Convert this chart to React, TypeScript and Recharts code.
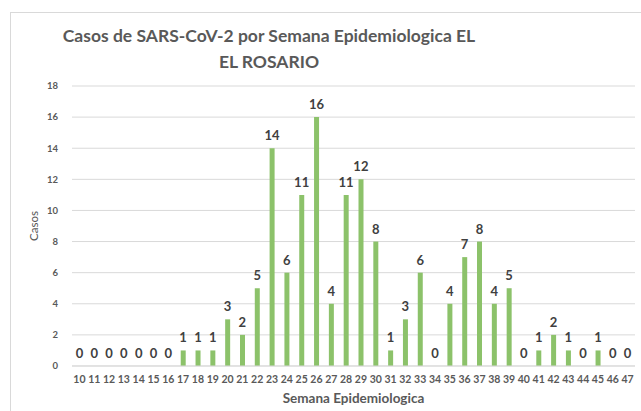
import { Bar, CartesianGrid, ComposedChart, LabelList, Line, XAxis, YAxis } from "recharts";

const weeks = [
	"10", "11", "12", "13", "14", "15", "16", "17", "18", "19",
	"20", "21", "22", "23", "24", "25", "26", "27", "28", "29",
	"30", "31", "32", "33", "34", "35", "36", "37", "38", "39",
	"40", "41", "42", "43", "44", "45", "46", "47",
];
const casos = [
	0, 0, 0, 0, 0, 0, 0, 1, 1, 1,
	3, 2, 5, 14, 6, 11, 16, 4, 11, 12,
	8, 1, 3, 6, 0, 4, 7, 8, 4, 5,
	0, 1, 2, 1, 0, 1, 0, 0,
];
const yTicks = [0, 2, 4, 6, 8, 10, 12, 14, 16, 18];

const font = "Lato, 'Open Sans', sans-serif";
const grey = "#595959";

export default function App() {
	const data = weeks.map((w, i) => ({ semana: w, casos: casos[i] }));

	return (
		<div
			style={{
				position: "fixed",
				left: 0,
				top: 0,
				width: 641,
				height: 411,
				overflow: "hidden",
				background: "#fff",
				fontFamily: font,
			}}
		>
			<div
				style={{
					position: "absolute",
					left: 10,
					top: 12,
					width: 700,
					height: 500,
					border: "1px solid #d9d9d9",
				}}
			/>
			<div
				style={{
					position: "absolute",
					left: 59,
					top: 23,
					width: 420,
					textAlign: "center",
					color: grey,
					fontWeight: 700,
					fontSize: 17.5,
					lineHeight: "26px",
					whiteSpace: "nowrap",
				}}
			>
				<div>Casos de SARS-CoV-2 por Semana Epidemiologica EL</div>
				<div>EL ROSARIO</div>
			</div>
			<ComposedChart
				width={641}
				height={411}
				data={data}
				margin={{ top: 86, right: 6, left: 0, bottom: 5 }}
				style={{ position: "absolute", left: 0, top: 0 }}
			>
				<CartesianGrid vertical={false} stroke="#d9d9d9" />
				<XAxis
					dataKey="semana"
					height={40}
					interval={0}
					tickLine={false}
					axisLine={{ stroke: "#d9d9d9" }}
					tickMargin={4}
					tick={{ fill: grey, fontSize: 10.5, fontWeight: 700, fontFamily: font }}
					label={{
						value: "Semana Epidemiologica",
						position: "insideBottom",
						offset: 3,
						style: { fill: grey, fontSize: 13.5, fontWeight: 700, fontFamily: font },
					}}
				/>
				<YAxis
					width={72}
					domain={[0, 18]}
					ticks={yTicks}
					tickLine={false}
					axisLine={false}
					tickMargin={8}
					tick={{ fill: grey, fontSize: 9.5, fontWeight: 700, fontFamily: font }}
					label={{
						value: "Casos",
						angle: -90,
						position: "insideLeft",
						offset: 34,
						style: { textAnchor: "middle", fill: grey, fontSize: 11.5, fontFamily: font },
					}}
				/>
				<Bar dataKey="casos" fill="#8cc26a" barSize={5} isAnimationActive={false} />
				<Line
					dataKey="casos"
					stroke="none"
					dot={false}
					activeDot={false}
					isAnimationActive={false}
				>
					<LabelList
						dataKey="casos"
						position="top"
						offset={8}
						style={{ fill: "#404040", fontSize: 13, fontWeight: 700, fontFamily: font }}
					/>
				</Line>
			</ComposedChart>
		</div>
	);
}
